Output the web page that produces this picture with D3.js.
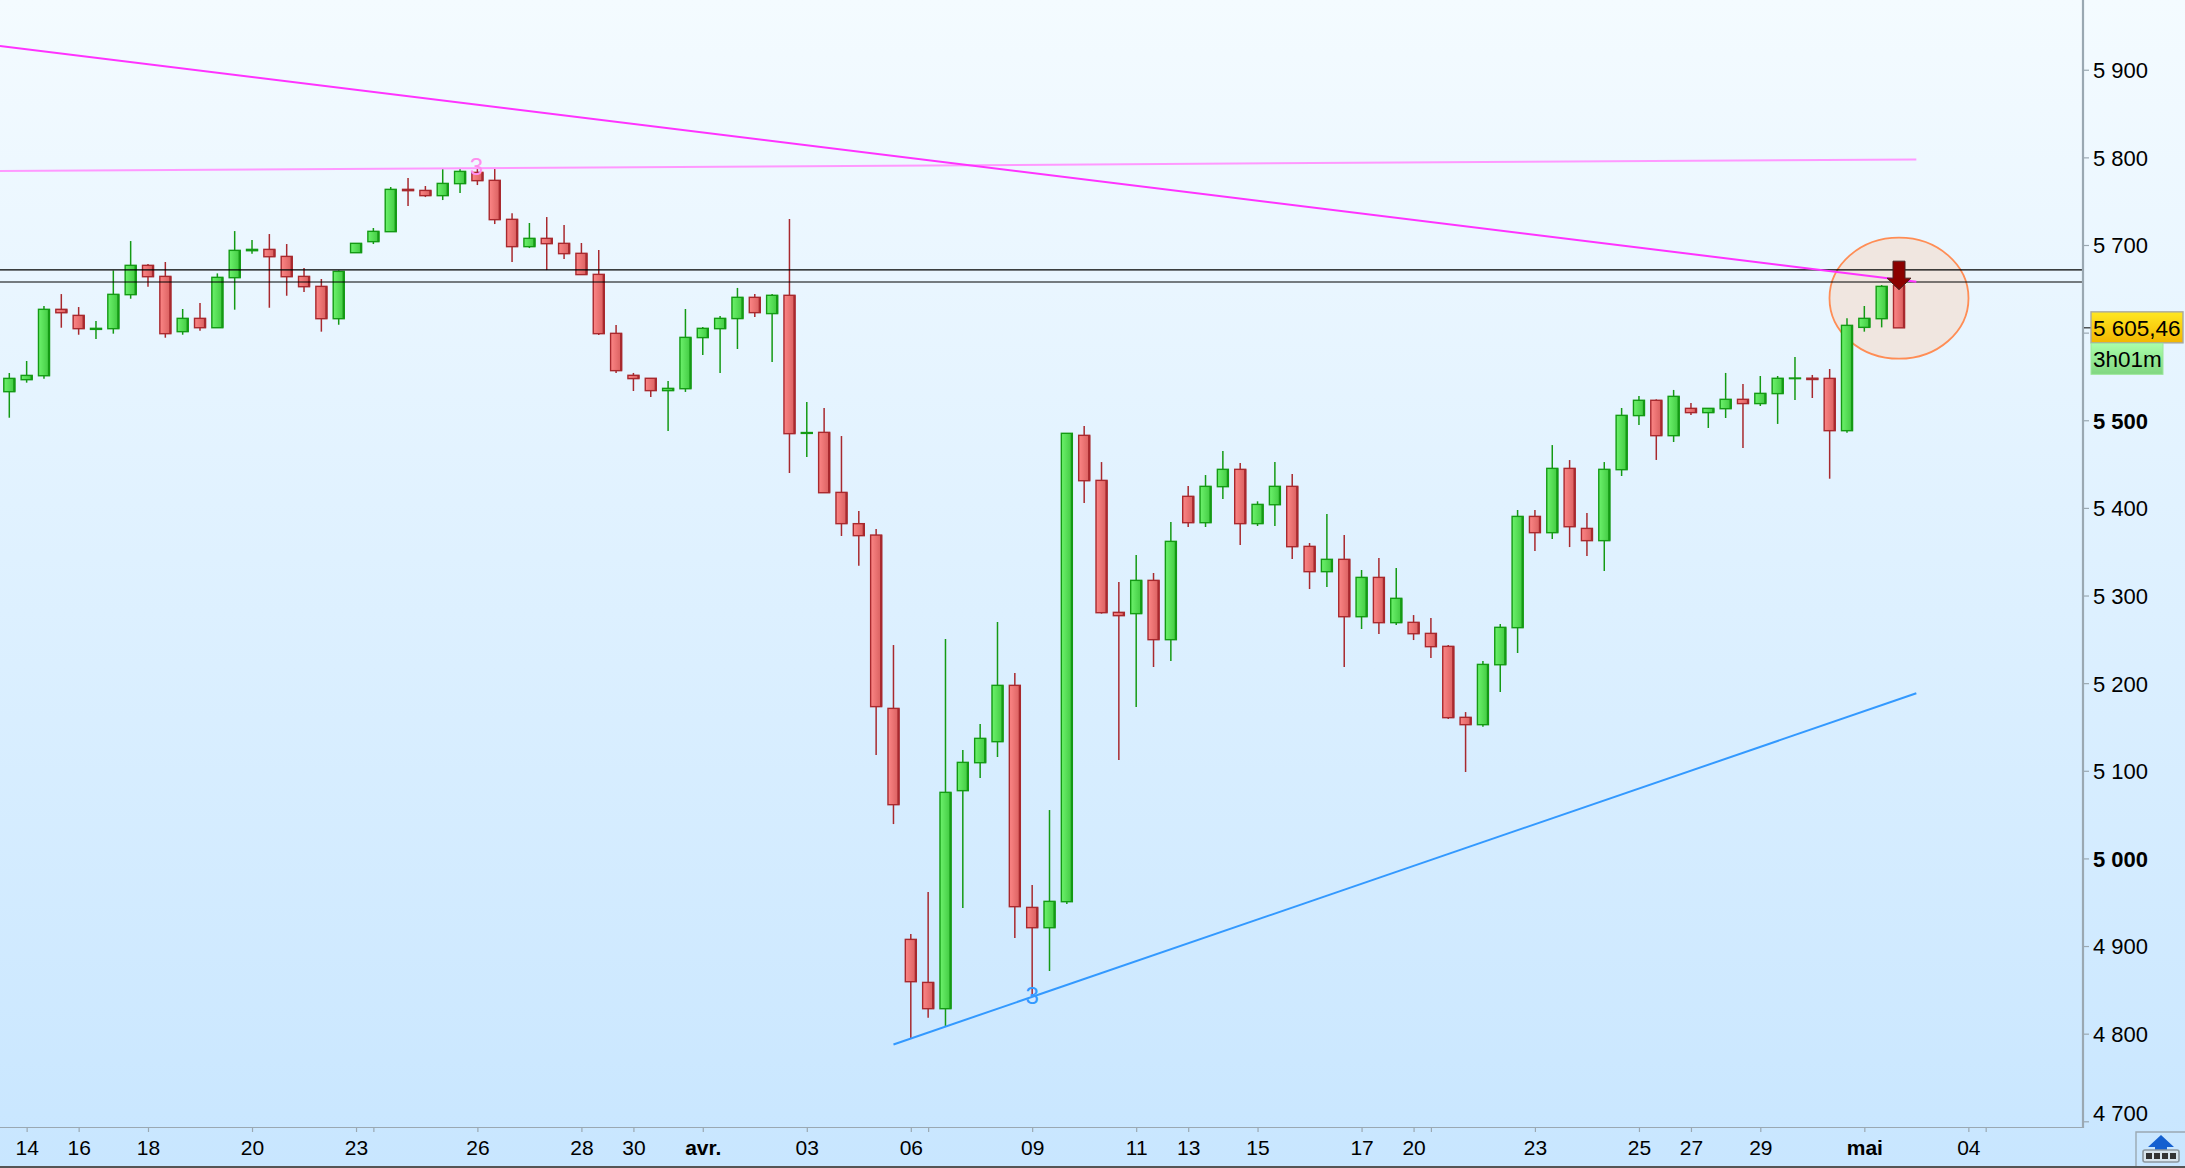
<!DOCTYPE html>
<html lang="en">
<head>
    <meta charset="UTF-8">
    <title>Candles</title>
    <script src="https://d3js.org/d3.v7.min.js"></script>
    <style>
        html, body { margin: 0; padding: 0; overflow: hidden; background: #fff; }
        svg { display: block; }
        text { font-family: "Liberation Sans", Arial, sans-serif; fill: #000; }
    </style>
</head>
<body>
<script>
    const opens = [
        5532.6, 5546.3, 5550.8, 5626.6, 5619.7, 5603.7, 5604.5, 5643.3, 5676.8, 5664.2,
        5601.1, 5616.3, 5605.6, 5662.7, 5693.5, 5695, 5687, 5664.2, 5652.8, 5615.9,
        5691.2, 5703.8, 5715.2, 5763.5, 5762.3, 5756.3, 5770, 5782.9, 5773.8, 5729.3,
        5698.1, 5707.6, 5701.9, 5690.5, 5666.5, 5599.2, 5551.3, 5547.9, 5533.8, 5536,
        5594.3, 5604.5, 5616, 5640.3, 5621.7, 5642.6, 5485, 5486.2, 5417.7, 5382,
        5369, 5171.2, 4907.6, 4858.5, 4828.5, 5077.3, 5109.2, 5133.2, 5197.5, 4944.1,
        4920.9, 4950.6, 5482.8, 5431.4, 5280.8, 5279.3, 5317.3, 5249.6, 5413.2, 5383.1,
        5424.2, 5444, 5382, 5403.6, 5424.6, 5356.1, 5327.2, 5341.3, 5275.8, 5320.7,
        5269, 5269.4, 5256.8, 5242, 5161, 5152.6, 5221, 5263.3, 5390.3, 5371.7,
        5445.1, 5376.6, 5362.6, 5443.6, 5505.3, 5522.8, 5482.4, 5513.6, 5508.7, 5513.2,
        5523.9, 5519, 5530.4, 5547.5, 5548, 5547.8, 5488.1, 5606, 5615.9, 5653.6
    ];
    const highs = [
        5553.9, 5567.6, 5630.4, 5644, 5629.2, 5613.2, 5671, 5704.5, 5678.3, 5680.6,
        5627, 5633.8, 5667.6, 5715.9, 5705.7, 5712.5, 5701.1, 5673.7, 5661.2, 5671,
        5701.9, 5719.4, 5766.2, 5776.4, 5767.3, 5787.8, 5786.7, 5788, 5786.7, 5736.1,
        5725.1, 5731.9, 5722.8, 5702.3, 5694.3, 5608.7, 5554, 5547.9, 5544.8, 5627,
        5606.4, 5619, 5651, 5644.1, 5644.1, 5729.7, 5520.9, 5514, 5482, 5396.4,
        5375.9, 5243.5, 4913.7, 4961.6, 5250.4, 5123.7, 5153.4, 5269.8, 5211.6, 4969.6,
        5055.2, 5485.1, 5493.4, 5452.3, 5315.4, 5346.2, 5325.7, 5383.9, 5425, 5437.5,
        5464.9, 5451.2, 5407.5, 5452.3, 5438.7, 5359.9, 5393, 5369, 5329.1, 5342.8,
        5331.4, 5277.7, 5274.3, 5243.5, 5167, 5225.2, 5267.5, 5397.6, 5397.6, 5471.7,
        5454.6, 5394.1, 5452.3, 5514, 5527.7, 5523.9, 5534.6, 5519.7, 5513.6, 5554,
        5541.4, 5550.5, 5550.5, 5572.2, 5551.7, 5558.5, 5616.3, 5630.4, 5654.3, 5668
    ];
    const lows = [
        5502.9, 5542.9, 5547.4, 5605.6, 5597.6, 5592.7, 5598.8, 5638.7, 5652.4, 5594.2,
        5597.6, 5602.2, 5605.6, 5626.2, 5690.1, 5628.4, 5642.1, 5646.3, 5601.1, 5609,
        5691.2, 5701.1, 5715.2, 5744.5, 5754.7, 5751.3, 5759.3, 5768.4, 5723.9, 5680.6,
        5696.5, 5671.4, 5684, 5666.2, 5597.3, 5554, 5533.4, 5526.6, 5487.8, 5532.3,
        5574.5, 5554, 5581.3, 5617.9, 5566.5, 5439.8, 5458.1, 5417.3, 5367.9, 5334,
        5118, 5039.2, 4795, 4818.2, 4808.7, 4943.4, 5091.7, 5115.7, 4909.1, 4844,
        4871.5, 4948, 5405.5, 5279.3, 5112.3, 5172.8, 5218.4, 5225.2, 5378.2, 5378.2,
        5410.1, 5357.6, 5379.3, 5379.3, 5341.6, 5307.4, 5309.7, 5218.4, 5261.8, 5256,
        5266.3, 5249.2, 5228.7, 5159.1, 5098.6, 5150.3, 5189.9, 5234.4, 5350.8, 5364.5,
        5355.3, 5345.1, 5328, 5436.4, 5494.6, 5454.7, 5475.2, 5506, 5491.2, 5502.6,
        5468.4, 5516.3, 5495.8, 5523.1, 5525.4, 5433.3, 5485.8, 5601.1, 5606, 5605.46
    ];
    const closes = [
        5547.8, 5551.2, 5626.6, 5622.7, 5604.5, 5604.9, 5643.7, 5676.8, 5663.8, 5598.8,
        5616.3, 5605.6, 5663.1, 5693.9, 5695, 5686.6, 5663.8, 5652.4, 5615.9, 5669.9,
        5701.9, 5715.6, 5763.5, 5762, 5756.3, 5770.3, 5784, 5773.4, 5728.9, 5698.1,
        5707.6, 5701.5, 5690.1, 5666.2, 5598.8, 5556.6, 5547.5, 5533.8, 5536.4, 5594.6,
        5604.9, 5616.3, 5640.3, 5622.8, 5642.6, 5484.7, 5486, 5417.3, 5382, 5368.3,
        5173.2, 5061.3, 4859.3, 4828.5, 5075.4, 5109.6, 5137, 5197.5, 4944.9, 4920.9,
        4951, 5485.1, 5431, 5280.4, 5277, 5317.3, 5249.6, 5361.8, 5383.1, 5424.6,
        5444, 5382, 5404, 5424.6, 5355.7, 5327.2, 5341.3, 5275.8, 5320.7, 5269,
        5296.8, 5256.4, 5241.6, 5160.6, 5152.6, 5221.4, 5263.7, 5390.3, 5371.7, 5445.1,
        5378.5, 5362.6, 5444, 5505.6, 5522.8, 5482.4, 5527.3, 5508.7, 5513.6, 5523.9,
        5519, 5530.7, 5547.9, 5548.2, 5546.5, 5488.1, 5608.3, 5616.3, 5652.8, 5605.46
    ];

    // bar index of each date tick, "" = tick with no label
    const dateTicks = [1, 4, 8, 14, 20, 21, 27, 33, 36, 40, 46, 52, 53, 59, 65, 68, 72, 78, 81, 82, 88, 94, 97, 101, 107, 113, 114];
    const dateLabels = ["14", "16", "18", "20", "23", "", "26", "28", "30", "avr.", "03", "06", "", "09", "11", "13", "15", "17", "20", "", "23", "25", "27", "29", "mai", "04", ""];
    const boldDates = ["avr.", "mai"];

    const priceTicks = [4700, 4800, 4900, 5000, 5100, 5200, 5300, 5400, 5500, 5600, 5700, 5800, 5900];
    const boldPrices = [5000, 5500];
    const hiddenPrices = [5600]; // sits behind the last price tag

    const lastPrice = 5605.46;
    const lastPriceLabel = "5 605,46";
    const countdownLabel = "3h01m";

    // drawn trend lines as [bar index, price] pairs
    const magentaLine = [[-0.54, 5927], [110, 5658.1]];
    const pinkLine = [[-0.54, 5784.4], [110, 5797.6]];
    const blueLine = [[51, 4787.7], [110, 5188.4]];
    const blackLevels = [5671.5, 5657.8];
    const waveLabels = [{i: 26.95, p: 5780, t: "3", c: "#ff8fee"}, {i: 59, p: 4834, t: "3", c: "#3399ff"}];

    const width = 2185, height = 1168;
    const plotRight = 2083, plotBottom = 1127;

    const data = opens.map((o, i) => ({i: i, o: o, h: highs[i], l: lows[i], c: closes[i]}));

    const x = d3.scaleLinear().domain([0, 109]).range([9.3, 1899]);
    const y = d3.scaleLinear().domain([5700, 4700]).range([245, 1121.3]);

    const svg = d3.select("body").append("svg")
        .attr("width", width)
        .attr("height", height);

    const defs = svg.append("defs");

    function gradient(id, stops, vertical) {
        const g = defs.append("linearGradient").attr("id", id)
            .attr("x1", 0).attr("y1", 0)
            .attr("x2", vertical ? 0 : 1).attr("y2", vertical ? 1 : 0);
        stops.forEach((s, k) => {
            g.append("stop").attr("offset", k / (stops.length - 1)).attr("stop-color", s);
        });
    }
    gradient("bg", ["#f4fbff", "#c8e6ff"], true);
    gradient("up", ["#6cf26c", "#40c840"], false);
    gradient("down", ["#fc8686", "#d85e5e"], false);
    gradient("gold", ["#ffe822", "#f3b600"], true);
    gradient("mint", ["#aaffaa", "#80d680"], true);

    svg.append("rect")
        .attr("width", width)
        .attr("height", height)
        .attr("fill", "url(#bg)");

    // highlight ellipse around the last bars
    svg.append("ellipse")
        .attr("cx", x(109))
        .attr("cy", y(5639.3))
        .attr("rx", 69.5)
        .attr("ry", 60.5)
        .attr("fill", "#f0e6e0")
        .attr("stroke", "#ff8d55")
        .attr("stroke-width", 1.8);

    const line = d3.line().x(d => x(d[0])).y(d => y(d[1]));

    // Candles
    const candles = svg.append("g").selectAll("g")
        .data(data)
        .enter().append("g")
        .attr("transform", d => `translate(${x(d.i)},0)`);

    const colorOf = d => d.c >= d.o ? "#149a14" : "#a8292e";

    candles.append("line")
        .attr("y1", d => y(d.h))
        .attr("y2", d => y(d.l))
        .attr("stroke", colorOf)
        .attr("stroke-width", 1.5);

    candles.append("rect")
        .attr("x", -5.5)
        .attr("width", 11)
        .attr("y", d => y(Math.max(d.o, d.c)))
        .attr("height", d => Math.max(0.5, Math.abs(y(d.o) - y(d.c))))
        .attr("fill", d => d.c >= d.o ? "url(#up)" : "url(#down)")
        .attr("stroke", colorOf)
        .attr("stroke-width", 1.4);

    // thicker right edge of the body
    candles.append("line")
        .attr("x1", 5)
        .attr("x2", 5)
        .attr("y1", d => y(Math.max(d.o, d.c)))
        .attr("y2", d => y(Math.min(d.o, d.c)))
        .attr("stroke", colorOf)
        .attr("stroke-width", 2.2);

    // Horizontal levels
    svg.append("g").selectAll("line")
        .data(blackLevels)
        .enter().append("line")
        .attr("x1", 0)
        .attr("x2", plotRight)
        .attr("y1", d => y(d))
        .attr("y2", d => y(d))
        .attr("stroke", "#000")
        .attr("stroke-width", 1.2);

    // Trend lines
    [[pinkLine, "#ff99ff"], [magentaLine, "#ff33ff"], [blueLine, "#3399ff"]].forEach(l => {
        svg.append("path")
            .attr("d", line(l[0]))
            .attr("fill", "none")
            .attr("stroke", l[1])
            .attr("stroke-width", 2);
    });

    svg.append("g").selectAll("text")
        .data(waveLabels)
        .enter().append("text")
        .attr("x", d => x(d.i))
        .attr("y", d => y(d.p))
        .attr("text-anchor", "middle")
        .style("font-size", "24px")
        .style("fill", d => d.c)
        .text(d => d.t);

    // sell arrow on the last bar
    const ax = x(109), ay = y(5653.6) - 5.5;
    svg.append("path")
        .attr("d", d3.line()([[ax - 6, ay - 19], [ax + 6, ay - 19], [ax + 6, ay - 2], [ax + 12, ay - 2], [ax, ay + 9.5], [ax - 12, ay - 2], [ax - 6, ay - 2]]) + "Z")
        .attr("fill", "#8b0000")
        .attr("stroke", "#4a2020")
        .attr("stroke-width", 1);

    // Axes
    const axisColor = "#9aa8b2";

    const yAxis = svg.append("g")
        .attr("transform", `translate(${plotRight},0)`)
        .call(d3.axisRight(y)
            .tickValues(priceTicks)
            .tickSize(6)
            .tickPadding(4)
            .tickFormat(d => hiddenPrices.includes(d) ? "" : d3.format(",")(d).replace(",", " ")));
    yAxis.select(".domain").remove();
    yAxis.selectAll(".tick line").attr("stroke", axisColor).attr("stroke-width", 1.2);
    yAxis.selectAll(".tick text")
        .attr("text-anchor", "start")
        .attr("dy", d => d === 4700 ? "-0.05em" : "0.36em")
        .style("font-family", '"Liberation Sans", Arial, sans-serif')
        .style("font-size", "22px")
        .style("font-weight", d => boldPrices.includes(d) ? "bold" : "normal");

    svg.append("line")
        .attr("x1", plotRight).attr("x2", plotRight)
        .attr("y1", 0).attr("y2", plotBottom + 1)
        .attr("stroke", axisColor)
        .attr("stroke-width", 2.2);

    const xAxis = svg.append("g")
        .attr("transform", `translate(0,${plotBottom})`)
        .call(d3.axisBottom(x)
            .tickValues(dateTicks)
            .tickSize(5)
            .tickPadding(8)
            .tickFormat((d, k) => dateLabels[k]));
    xAxis.select(".domain").remove();
    xAxis.selectAll(".tick line").attr("stroke", axisColor).attr("stroke-width", 1.2);
    xAxis.selectAll(".tick text")
        .style("font-family", '"Liberation Sans", Arial, sans-serif')
        .style("font-size", "21px")
        .style("font-weight", (d, k) => boldDates.includes(dateLabels[k]) ? "bold" : "normal");

    svg.append("line")
        .attr("x1", 0).attr("x2", plotRight)
        .attr("y1", plotBottom + 0.5).attr("y2", plotBottom + 0.5)
        .attr("stroke", axisColor)
        .attr("stroke-width", 1.2);

    // Last price tag
    const tagTop = y(lastPrice) - 16;
    svg.append("line")
        .attr("x1", plotRight + 1).attr("x2", 2091)
        .attr("y1", y(lastPrice)).attr("y2", y(lastPrice))
        .attr("stroke", "#000")
        .attr("stroke-width", 1);
    svg.append("rect")
        .attr("x", 2091).attr("y", tagTop)
        .attr("width", 92).attr("height", 31)
        .attr("fill", "url(#gold)")
        .attr("stroke", "#a8a8a0")
        .attr("stroke-width", 1.4);
    svg.append("text")
        .attr("x", 2093).attr("y", tagTop + 24)
        .style("font-size", "22.5px")
        .text(lastPriceLabel);
    svg.append("rect")
        .attr("x", 2091).attr("y", tagTop + 31.5)
        .attr("width", 72).attr("height", 31)
        .attr("fill", "url(#mint)")
        .attr("stroke", "#9ce89c")
        .attr("stroke-width", 1);
    svg.append("text")
        .attr("x", 2093).attr("y", tagTop + 55)
        .style("font-size", "22.5px")
        .text(countdownLabel);

    // bottom right toolbar button
    svg.append("path")
        .attr("d", `M2136,${height} V1132 H${width}`)
        .attr("fill", "none")
        .attr("stroke", axisColor)
        .attr("stroke-width", 1.4);
    svg.append("path")
        .attr("d", "M2161,1135 l-13,12 h7 v6 h12 v-6 h7 Z")
        .attr("fill", "#1560d0");
    svg.append("rect")
        .attr("x", 2143).attr("y", 1150)
        .attr("width", 36).attr("height", 12)
        .attr("rx", 2)
        .attr("fill", "#d8e4ec")
        .attr("stroke", "#8c979e")
        .attr("stroke-width", 1.6);
    svg.append("g").selectAll("rect")
        .data(d3.range(4))
        .enter().append("rect")
        .attr("x", d => 2146 + d * 8)
        .attr("y", 1153)
        .attr("width", 6).attr("height", 6)
        .attr("fill", "#333");

    // window bottom edge
    svg.append("rect")
        .attr("x", 0).attr("y", height - 2)
        .attr("width", width).attr("height", 2)
        .attr("fill", "#555");
</script>
</body>
</html>
